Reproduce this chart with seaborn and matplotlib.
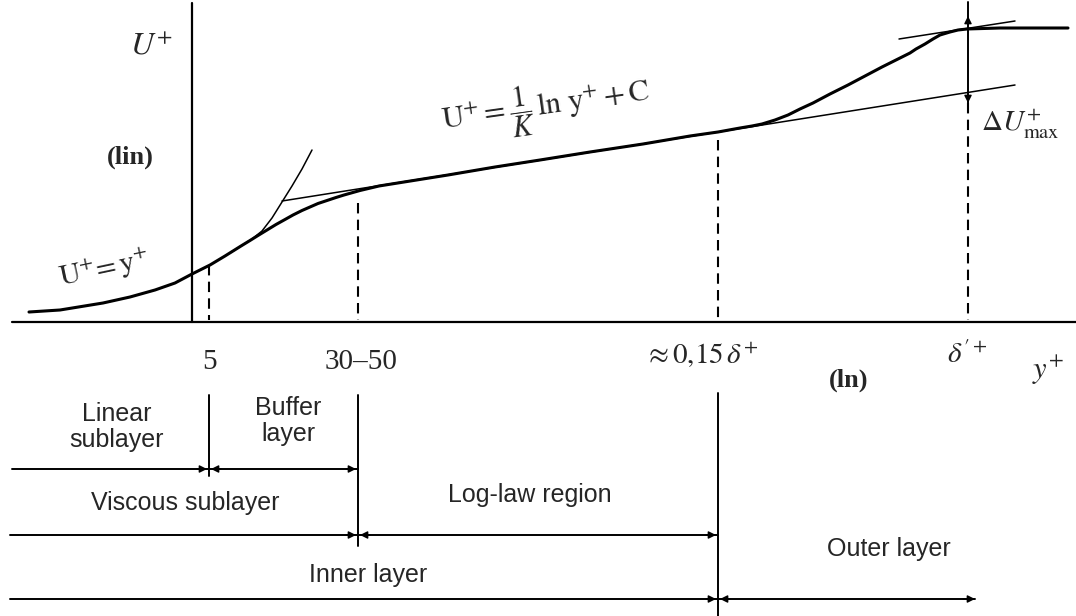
import numpy as np
import pandas as pd
import matplotlib
matplotlib.use("Agg")
import matplotlib.pyplot as plt
import seaborn as sns

sns.set_theme(style="white")
plt.rcParams['font.family'] = ['Liberation Serif', 'DejaVu Serif']
plt.rcParams['mathtext.fontset'] = 'stix'

# ---- schematic coordinates (x: ln y+ position, y: drawing position, downwards) ----
profile_x = [29, 60, 103, 130, 155, 175, 192, 210, 225, 241, 250, 258, 267, 276, 285, 293,
             302, 310, 318, 327, 336, 344, 360, 379, 448, 495, 540, 590, 643, 690, 718,
             740, 752, 762, 775, 788, 800, 813, 830, 848, 865, 882, 900, 910, 916, 925,
             933, 940, 950, 958, 967, 1000, 1068]
profile_y = [312, 310, 303, 297, 290, 283, 274, 265, 256, 246, 240.5, 235.5, 230, 224.5,
             219.5, 215, 210.5, 207, 203.5, 200.5, 197.5, 195, 190.5, 186, 175, 167, 160,
             152, 144, 136, 132, 128, 126, 124, 120, 115, 109, 103, 94, 85, 76, 67, 58, 53,
             49, 44, 39, 35, 32, 30, 29, 28, 28]
linear_x = [230, 241, 252, 262, 272, 282, 292, 302, 312]
linear_y = [253, 246, 239, 231, 218, 202, 186, 169, 150]
loglaw_x = [282, 1015]
loglaw_y = [201, 85]
outer_x = [899, 1015]
outer_y = [39, 21]

axis_origin_x = 192
axis_base_y = 322
marker_x = [209, 358, 718, 968]          # 5, 30-50, 0.15 delta, delta'
marker_top = [265, 203, 140, 103]
tick_labels = ['5', '30–50', r'$\approx 0{,}15\,\delta^{+}$', r"$\delta^{\prime +}$"]
tick_label_x = [210, 361, 701, 967]
tick_label_y = [362, 362, 356, 355]

region_names = ['Linear\nsublayer', 'Buffer\nlayer', 'Viscous sublayer', 'Log-law region',
                'Inner layer', 'Outer layer']
region_x = [117, 288, 185, 530, 368, 889]
region_y = [427, 421, 503, 495, 575, 549]

band_y = [469, 535, 599]
band_start = [12, 10, 10]
band_end = [358, 718, 975]
band_divider = [209, 358, 718]
divider_top = [395, 395, 393]
divider_bottom = [476, 546, 616]

fig = plt.figure(figsize=(10.76, 6.16), dpi=100)
ax = fig.add_axes([0, 0, 1, 1])

k = 'black'
# axes of the schematic
ax.plot([12, 1076], [axis_base_y, axis_base_y], color=k, lw=1.6)
ax.plot([axis_origin_x, axis_origin_x], [3, axis_base_y], color=k, lw=1.6)

# curves via seaborn
prof = pd.DataFrame({'x': profile_x, 'y': profile_y})
sns.lineplot(data=prof, x='x', y='y', sort=False, estimator=None, color=k, lw=2.2, ax=ax)
lin = pd.DataFrame({'x': linear_x, 'y': linear_y})
sns.lineplot(data=lin, x='x', y='y', sort=False, estimator=None, color=k, lw=1.1, ax=ax)
logl = pd.DataFrame({'x': loglaw_x, 'y': loglaw_y})
sns.lineplot(data=logl, x='x', y='y', sort=False, estimator=None, color=k, lw=1.1, ax=ax)
outl = pd.DataFrame({'x': outer_x, 'y': outer_y})
sns.lineplot(data=outl, x='x', y='y', sort=False, estimator=None, color=k, lw=1.1, ax=ax)
ax.set_xlim(0, 1076)
ax.set_ylim(616, 0)
ax.axis('off')

# dashed markers
for mx, mt in zip(marker_x, marker_top):
    ax.plot([mx, mx], [mt, axis_base_y - 2], color=k, lw=1.5, ls=(0, (5, 3)))
# delta' solid part with arrows
ax.plot([968, 968], [2, 103], color=k, lw=1.4)

def head(x, y, dx=0, dy=0):
    ax.annotate('', xy=(x, y), xytext=(x - dx, y - dy),
                arrowprops=dict(arrowstyle='-|>', color=k, lw=1, mutation_scale=11,
                                shrinkA=0, shrinkB=0))

head(968, 16, dy=-8)   # pointing up
head(968, 103, dy=8)   # pointing down

# labels upper part
ax.text(151, 47, r'$U^{+}$', fontsize=23, ha='center', va='center')
ax.text(130, 157, '(lin)', fontsize=19, fontweight='bold', ha='center', va='center')
ax.text(104, 270, r'$\mathrm{U}^{+}\!=\mathrm{y}^{+}$', fontsize=21, ha='center', va='center',
        rotation=12)
ax.text(546, 108, r'$\mathrm{U}^{+}=\dfrac{1}{K}\,\ln\,\mathrm{y}^{+}+\mathrm{C}$', fontsize=22,
        ha='center', va='center', rotation=8)
ax.text(1020, 125, r'$\Delta U^{+}_{\mathrm{max}}$', fontsize=21, ha='center', va='center')

for lab, lx, ly in zip(tick_labels, tick_label_x, tick_label_y):
    ax.text(lx, ly, lab, fontsize=21, ha='center', va='center')
ax.text(849, 380, '(ln)', fontsize=19, fontweight='bold', ha='center', va='center')
ax.text(1048, 370, r'$y^{+}$', fontsize=22, ha='center', va='center')

# region bands
for by, bs, be in zip(band_y, band_start, band_end):
    ax.plot([bs, be], [by, by], color=k, lw=1.4)
for dx_, dt, db in zip(band_divider, divider_top, divider_bottom):
    ax.plot([dx_, dx_], [dt, db], color=k, lw=1.4)

head(207, band_y[0], dx=10)
head(211, band_y[0], dx=-10)
head(356, band_y[0], dx=10)
head(356, band_y[1], dx=10)
head(360, band_y[1], dx=-10)
head(716, band_y[1], dx=10)
head(716, band_y[2], dx=10)
head(720, band_y[2], dx=-10)
head(975, band_y[2], dx=12)

for name, rx, ry in zip(region_names, region_x, region_y):
    ax.text(rx, ry, name, fontsize=18, family=['Liberation Sans', 'DejaVu Sans'],
            ha='center', va='center', linespacing=1.15)

fig.savefig('out.png', dpi=100, facecolor='white')
